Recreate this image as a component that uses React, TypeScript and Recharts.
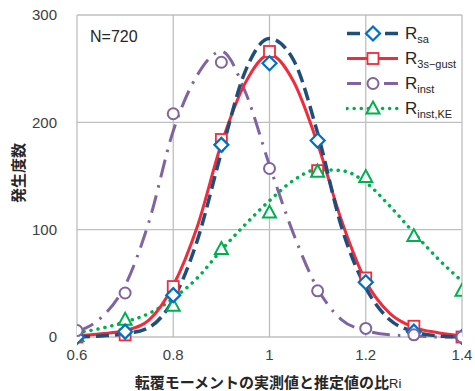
import { LineChart, Line, XAxis, YAxis, CartesianGrid } from 'recharts'

// histogram bins (markers)
const binX = [0.6, 0.7, 0.8, 0.9, 1.0, 1.1, 1.2, 1.3, 1.4]
const rsaCount = [0, 5, 39, 179, 255, 183, 51, 5, 0]
const r3sCount = [0, 2, 47, 184, 266, 155, 55, 10, 0]
const rinstCount = [6, 41, 208, 256, 157, 43, 8, 2, 0]
const rinstKeCount = [1, 16, 29, 82, 116, 154, 149, 94, 43]

// fitted curves
const fitX = [0.6, 0.65, 0.7, 0.75, 0.8, 0.85, 0.9, 0.95, 1.0, 1.05, 1.1, 1.15, 1.2, 1.25, 1.3, 1.35, 1.4]
const rsaFit = [0, 1, 3, 9, 35, 90, 172, 248, 278, 258, 190, 102, 46, 16, 5, 1, 0]
const r3sFit = [1, 3, 6, 16, 48, 103, 180, 237, 263, 238, 180, 108, 52, 22, 9, 4, 1]
const rinstFit = [5, 18, 48, 108, 192, 244, 266, 228, 160, 96, 45, 16, 6, 2, 1, 0, 0]
const rinstKeFit = [4, 8, 14, 22, 36, 55, 81, 105, 127, 146, 156, 155, 144, 122, 97, 73, 52]

const xTicks = [0.6, 0.8, 1, 1.2, 1.4]
const yTicks = [0, 100, 200, 300]

const BLUE_LINE = '#1f4e79'
const BLUE_MARK = '#0070c0'
const RED = '#ef2b3c'
const PURPLE = '#8064a2'
const GREEN = '#00b050'

const toPts = (xs: number[], ys: number[]) => xs.map((x, i) => ({ x, y: ys[i] }))

type DotProps = { cx?: number; cy?: number; index?: number }

const diamond = (p: DotProps) => {
  const { cx = 0, cy = 0 } = p
  return <path key={`d${p.index}`} d={`M${cx},${cy - 7}L${cx + 7},${cy}L${cx},${cy + 7}L${cx - 7},${cy}Z`} fill="#fff" stroke={BLUE_MARK} strokeWidth={2.2} />
}
const square = (p: DotProps) => {
  const { cx = 0, cy = 0 } = p
  return <rect key={`s${p.index}`} x={cx - 5.5} y={cy - 5.5} width={11} height={11} fill="#fff" stroke={RED} strokeWidth={1.8} />
}
const circle = (p: DotProps) => {
  const { cx = 0, cy = 0 } = p
  return <circle key={`c${p.index}`} cx={cx} cy={cy} r={5.5} fill="#fff" stroke={PURPLE} strokeWidth={2} />
}
const triangle = (p: DotProps) => {
  const { cx = 0, cy = 0 } = p
  return <path key={`t${p.index}`} d={`M${cx},${cy - 7}L${cx + 6.5},${cy + 5}L${cx - 6.5},${cy + 5}Z`} fill="#fff" stroke={GREEN} strokeWidth={2} />
}

const legendItems = [
  { sub: 'sa', stroke: BLUE_LINE, dash: '13 6', width: 3.5, mark: diamond },
  { sub: '3s\u2212gust', stroke: RED, dash: undefined, width: 3, mark: square },
  { sub: 'inst', stroke: PURPLE, dash: '14 10 3 10', width: 3, mark: circle },
  { sub: 'inst,KE', stroke: GREEN, dash: '0.1 7', width: 3.5, mark: triangle },
]

const font = '"Liberation Sans", Arial, sans-serif'
const cjk = '"Noto Sans CJK JP", sans-serif'

function XTitle() {
  return (
    <text x={268} y={388} textAnchor="middle" fill="#262626">
      <tspan fontFamily={cjk} fontWeight={700} fontSize={15}>転覆モーメントの実測値と推定値の比</tspan>
      <tspan fontFamily={font} fontSize={13}>Ri</tspan>
    </text>
  )
}

function YTitle() {
  return (
    <text x={0} y={0} transform="translate(24,173) rotate(-90)" textAnchor="middle" fill="#262626" fontFamily={cjk} fontWeight={700} fontSize={15}>
      発生度数
    </text>
  )
}

export default function App() {
  return (
    <div style={{ position: 'absolute', left: 0, top: 0, width: 475, height: 391, background: '#fff', fontFamily: font }}>
      <LineChart width={475} height={391} margin={{ top: 15, right: 13, left: 0, bottom: 0 }}>
        <CartesianGrid stroke="#bfbfbf" strokeWidth={1.3} />
        <XAxis
          dataKey="x"
          type="number"
          domain={[0.6, 1.4]}
          ticks={xTicks}
          allowDataOverflow
          height={54}
          axisLine={false}
          tickLine={false}
          tickSize={0}
          tickMargin={12}
          tick={{ fontSize: 15, fill: '#404040', fontFamily: font }}
          label={{ content: () => <XTitle /> }}
        />
        <YAxis
          dataKey="y"
          type="number"
          domain={[0, 300]}
          ticks={yTicks}
          width={77}
          axisLine={false}
          tickLine={false}
          tickSize={0}
          tickMargin={20}
          tick={{ fontSize: 15, fill: '#404040', fontFamily: font }}
          label={{ content: () => <YTitle /> }}
        />
        <Line data={toPts(fitX, rinstKeFit)} dataKey="y" type="monotone" stroke={GREEN} strokeWidth={3.5} strokeDasharray="0.1 7" strokeLinecap="round" dot={false} activeDot={false} isAnimationActive={false} />
        <Line data={toPts(fitX, rinstFit)} dataKey="y" type="monotone" stroke={PURPLE} strokeWidth={3} strokeDasharray="18 8 2.5 8" dot={false} activeDot={false} isAnimationActive={false} />
        <Line data={toPts(fitX, r3sFit)} dataKey="y" type="monotone" stroke={RED} strokeWidth={3} dot={false} activeDot={false} isAnimationActive={false} />
        <Line data={toPts(fitX, rsaFit)} dataKey="y" type="monotone" stroke={BLUE_LINE} strokeWidth={3.5} strokeDasharray="13 6" dot={false} activeDot={false} isAnimationActive={false} />
        <Line data={toPts(binX, r3sCount)} dataKey="y" stroke="none" dot={square} activeDot={false} isAnimationActive={false} />
        <Line data={toPts(binX, rinstKeCount)} dataKey="y" stroke="none" dot={triangle} activeDot={false} isAnimationActive={false} />
        <Line data={toPts(binX, rsaCount)} dataKey="y" stroke="none" dot={diamond} activeDot={false} isAnimationActive={false} />
        <Line data={toPts(binX, rinstCount)} dataKey="y" stroke="none" dot={circle} activeDot={false} isAnimationActive={false} />
      </LineChart>

      <div style={{ position: 'absolute', left: 90, top: 28, fontSize: 16, color: '#262626' }}>N=720</div>

      <div style={{ position: 'absolute', left: 346, top: 21 }}>
        {legendItems.map((it, i) => (
          <div key={i} style={{ display: 'flex', alignItems: 'center', height: 25 }}>
            <svg width={54} height={25} style={{ display: 'block' }}>
              <line x1={1} y1={12.5} x2={52} y2={12.5} stroke={it.stroke} strokeWidth={it.width} strokeDasharray={it.dash} strokeLinecap={it.dash === '0.1 7' ? 'round' : 'butt'} />
              {it.mark({ cx: 27, cy: 12.5, index: i })}
            </svg>
            <span style={{ fontSize: 17, color: '#262626', marginLeft: 5, lineHeight: '25px' }}>
              R<sub style={{ fontSize: 11, verticalAlign: 'sub', lineHeight: 0 }}>{it.sub}</sub>
            </span>
          </div>
        ))}
      </div>
    </div>
  )
}
